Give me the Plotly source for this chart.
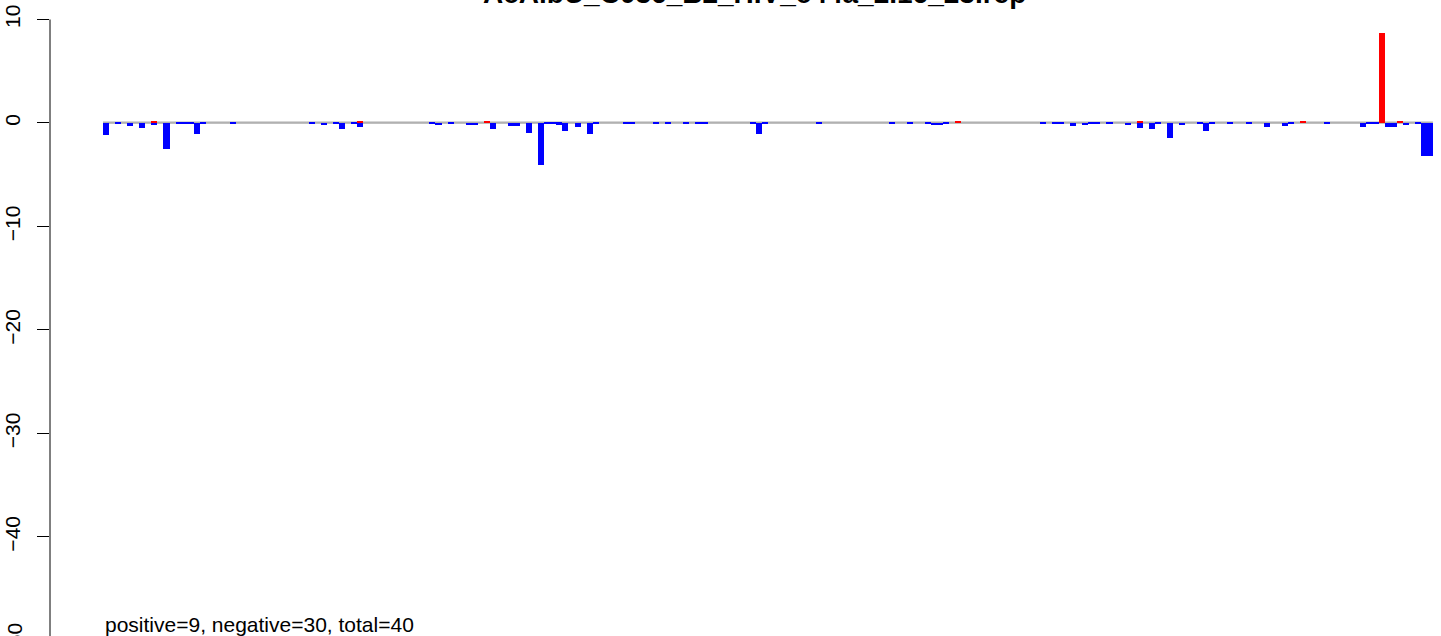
import plotly.graph_objects as go

# ---- data ----
title_text = "AcAlbU_C036_B2_HIV_c44a_2.16_23.rep"
note_text = "positive=9, negative=30, total=40"
n_bars = 220
categories = list(range(n_bars))

pos_index = [8, 42, 63, 141, 171, 198, 211, 214]
pos_value = [0.1, 0.1, 0.1, 0.1, 0.1, 0.1, 8.7, 0.1]

neg_index = [0, 2, 4, 6, 8, 10, 12, 13, 14, 15, 16, 21, 34, 36, 38, 39, 41, 42,
             54, 55, 57, 60, 61, 64, 67, 68, 70, 72, 73, 74, 75, 76, 78, 80, 81,
             86, 87, 91, 93, 96, 98, 99, 107, 108, 109, 118, 130, 133, 136, 137,
             138, 139, 155, 157, 158, 160, 162, 163, 164, 166, 169, 171, 173, 174,
             176, 178, 181, 182, 183, 186, 189, 192, 195, 196, 202, 208, 209, 210,
             212, 213, 215, 217, 218, 219]
neg_value = [-1.13, -0.1, -0.25, -0.48, -0.2, -2.48, -0.08, -0.08, -0.08, -1.06,
             -0.08, -0.08, -0.1, -0.2, -0.08, -0.58, -0.08, -0.38,
             -0.08, -0.2, -0.1, -0.2, -0.2, -0.58, -0.3, -0.3, -0.97, -4.06,
             -0.08, -0.08, -0.15, -0.77, -0.39, -1.06, -0.08,
             -0.08, -0.08, -0.08, -0.08, -0.08, -0.08, -0.08, -0.08, -1.06, -0.08,
             -0.08, -0.08, -0.08, -0.08, -0.2,
             -0.2, -0.08, -0.08, -0.08, -0.08, -0.3, -0.2, -0.08, -0.08, -0.08,
             -0.2, -0.5, -0.58, -0.08,
             -1.45, -0.2, -0.08, -0.77, -0.08, -0.08, -0.08, -0.39, -0.3, -0.08,
             -0.08, -0.39, -0.08, -0.08,
             -0.39, -0.39, -0.2, -0.08, -3.19, -3.19]

y_ticks = [10, 0, -10, -20, -30, -40]
y_axis_span = [-50, 10]

# ---- build full series ----
pos_series = [0.0] * n_bars
for i, v in zip(pos_index, pos_value):
    pos_series[i] = v
neg_series = [0.0] * n_bars
for i, v in zip(neg_index, neg_value):
    neg_series[i] = v

W, H = 1441, 636
y_range = [-49.57, 11.884]
x_range = [-9.27, 220.84]
FONT = "Liberation Sans, Arial, Helvetica, sans-serif"

fig = go.Figure()
fig.add_trace(go.Bar(x=categories, y=pos_series, marker=dict(color="#FF0000", line=dict(width=0)),
                     width=1, hoverinfo="skip"))
fig.add_trace(go.Bar(x=categories, y=neg_series, marker=dict(color="#0000FF", line=dict(width=0)),
                     width=1, hoverinfo="skip"))


def ypaper(v):
    return (v - y_range[0]) / (y_range[1] - y_range[0])


shapes = [
    # zero reference line (light upper, dark lower)
    dict(type="line", xref="x", yref="y", x0=categories[0] - 0.5, x1=categories[-1] + 0.5,
         y0=0.1, y1=0.1, line=dict(color="#c8c8c8", width=1.2), layer="below"),
    dict(type="line", xref="x", yref="y", x0=categories[0] - 0.5, x1=categories[-1] + 0.5,
         y0=0, y1=0, line=dict(color="#808080", width=1.2), layer="below"),
    # y axis line spanning the tick range
    dict(type="line", xref="paper", yref="paper", x0=0, x1=0,
         y0=ypaper(y_axis_span[0]), y1=ypaper(y_axis_span[1]),
         line=dict(color="black", width=1)),
]

annotations = [
    dict(text="<b>" + title_text + "</b>", xref="paper", yref="paper", x=(754 - 50) / (W - 50),
         y=1, xanchor="center", yanchor="bottom", yshift=-11, showarrow=False,
         font=dict(family=FONT, size=28, color="black")),
    dict(text=note_text, xref="x", yref="paper", x=categories[0] - 0.5, y=(H - 624) / H,
         xanchor="left", yanchor="middle", showarrow=False,
         font=dict(family=FONT, size=21, color="black")),
    # bottom tick label (mostly outside the window, as in the reference)
    dict(text="\u221250", xref="paper", yref="paper", x=0, y=ypaper(y_axis_span[0]),
         xanchor="center", yanchor="middle", xshift=-36, textangle=-90, showarrow=False,
         font=dict(family=FONT, size=21, color="black")),
]

fig.update_layout(
    width=W, height=H,
    margin=dict(l=50, r=0, t=0, b=0, pad=0),
    paper_bgcolor="white", plot_bgcolor="white",
    barmode="relative", bargap=0, showlegend=False,
    shapes=shapes, annotations=annotations,
    xaxis=dict(range=x_range, visible=False, fixedrange=True),
    yaxis=dict(range=y_range, tickvals=y_ticks, ticks="outside", ticklen=12,
               tickcolor="black", tickwidth=1, tickangle=-90, showgrid=False,
               zeroline=False, showline=False, ticklabelstandoff=9,
               tickfont=dict(family=FONT, size=21, color="black"), fixedrange=True),
)

fig.write_html("out.html", config={"displayModeBar": False},
               post_script="document.body.style.margin='0';document.body.style.overflow='hidden';")
